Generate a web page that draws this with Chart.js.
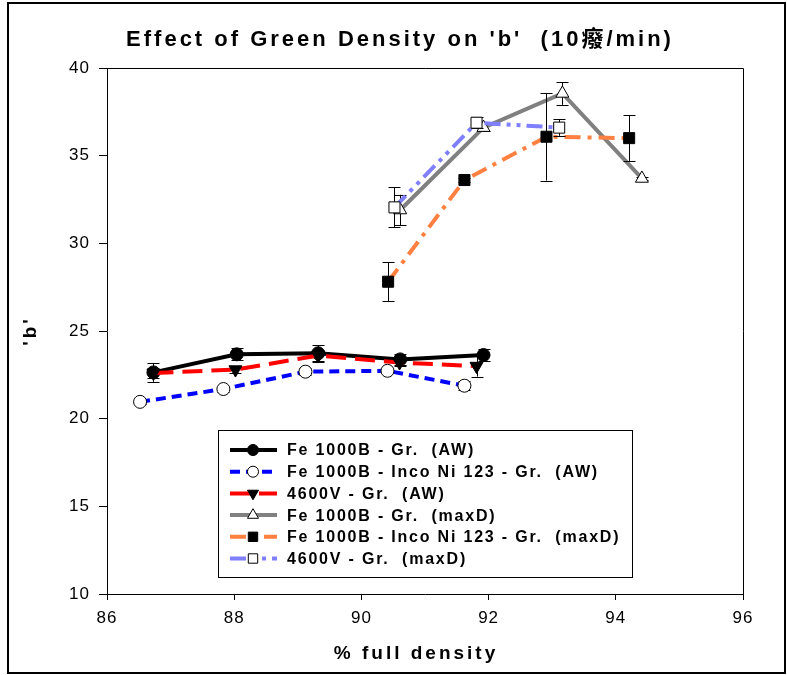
<!DOCTYPE html>
<html>
<head>
<meta charset="utf-8">
<script src="https://cdn.jsdelivr.net/npm/chart.js@4.4.1/dist/chart.umd.min.js"></script>
<style>
  body { margin: 0; background: #fff; }
  canvas { display: block; }
</style>
</head>
<body>
<canvas id="chart_cntxt" width="787" height="675"></canvas>
<script>
// % full density (x), 'b' (y), error (+/-) for each series
var xFeAW = [86.73, 88.04, 89.32, 90.61, 91.92];
var yFeAW = [22.64, 23.67, 23.73, 23.38, 23.63];
var eFeAW = [0.54, 0.35, 0.47, 0.3, 0.35];

var xIncoAW = [86.52, 87.83, 89.12, 90.41, 91.62];
var yIncoAW = [20.96, 21.69, 22.68, 22.73, 21.88];
var eIncoAW = [0.1, 0.15, 0.2, 0.15, 0.25];

var xVAW = [86.73, 88.02, 89.32, 90.6, 91.81];
var yVAW = [22.6, 22.8, 23.6, 23.2, 23.0];
var eVAW = [0.3, 0.2, 0.3, 0.2, 0.6];

var xFeMax = [90.61, 91.92, 93.16, 94.41];
var yFeMax = [31.9, 36.6, 38.55, 33.7];
var eFeMax = [0.87, 0.2, 0.65, 0.1];

var xIncoMax = [90.42, 91.62, 92.91, 94.21];
var yIncoMax = [27.81, 33.61, 36.08, 36.0];
var eIncoMax = [1.1, 0.1, 2.5, 1.3];

var xVMax = [90.52, 91.81, 93.11];
var yVMax = [32.05, 36.88, 36.6];
var eVMax = [1.14, 0.3, 0.47];

var seriesLabels = [
  "Fe 1000B - Gr.  (AW)",
  "Fe 1000B - Inco Ni 123 - Gr.  (AW)",
  "4600V - Gr.  (AW)",
  "Fe 1000B - Gr.  (maxD)",
  "Fe 1000B - Inco Ni 123 - Gr.  (maxD)",
  "4600V - Gr.  (maxD)"
];
var chartTitle = "Effect of Green Density on 'b'  (10癈/min)";
var xTitle = "% full density";
var yTitle = "'b'";

var FONT = "'Liberation Sans', Arial, 'Noto Sans CJK SC', sans-serif";

function pts(xs, ys) {
  return xs.map(function (x, i) { return { x: x, y: ys[i] }; });
}

var errs = [eFeAW, eIncoAW, eVAW, eFeMax, eIncoMax, eVMax];

var datasets = [
  { data: pts(xFeAW, yFeAW), borderColor: '#000000', borderDash: [],
    pointStyle: 'circle', pointRadius: 6.5, pointBackgroundColor: '#000', pointRotation: 0 },
  { data: pts(xIncoAW, yIncoAW), borderColor: '#0000ff', borderDash: [10, 6],
    pointStyle: 'circle', pointRadius: 6.5, pointBackgroundColor: '#fff', pointRotation: 0 },
  { data: pts(xVAW, yVAW), borderColor: '#ff0000', borderDash: [20, 9],
    pointStyle: 'triangle', pointRadius: 7.5, pointBackgroundColor: '#000', pointRotation: 180 },
  { data: pts(xFeMax, yFeMax), borderColor: '#808080', borderDash: [],
    pointStyle: 'triangle', pointRadius: 7.5, pointBackgroundColor: '#fff', pointRotation: 0 },
  { data: pts(xIncoMax, yIncoMax), borderColor: '#ff8040', borderDash: [16, 7, 4, 7],
    pointStyle: 'rect', pointRadius: 7.8, pointBackgroundColor: '#000', pointRotation: 0 },
  { data: pts(xVMax, yVMax), borderColor: '#8080ff', borderDash: [16, 6, 4, 6, 4, 6],
    pointStyle: 'rect', pointRadius: 7.8, pointBackgroundColor: '#fff', pointRotation: 0 }
].map(function (d, i) {
  d.label = seriesLabels[i];
  d.borderWidth = 4;
  d.pointBorderColor = '#000';
  d.pointBorderWidth = 1;
  d.pointHoverRadius = d.pointRadius;
  d.fill = false;
  d.tension = 0;
  d.showLine = true;
  d.order = 5 - i;
  return d;
});

// error bars, drawn just under each series
var errorBars = {
  id: 'errorBars',
  beforeDatasetDraw: function (chart, args) {
    var e = errs[args.index];
    var ds = chart.data.datasets[args.index];
    var xs = chart.scales.x, ys = chart.scales.y;
    var ctx = chart.ctx;
    ctx.save();
    ctx.strokeStyle = '#000';
    ctx.lineWidth = 1;
    ds.data.forEach(function (p, i) {
      var px = Math.round(xs.getPixelForValue(p.x)) + 0.5;
      var top = ys.getPixelForValue(p.y + e[i]);
      var bot = ys.getPixelForValue(p.y - e[i]);
      ctx.beginPath();
      ctx.moveTo(px, top); ctx.lineTo(px, bot);
      ctx.moveTo(px - 6, Math.round(top) + 0.5); ctx.lineTo(px + 6, Math.round(top) + 0.5);
      ctx.moveTo(px - 6, Math.round(bot) + 0.5); ctx.lineTo(px + 6, Math.round(bot) + 0.5);
      ctx.stroke();
    });
    ctx.restore();
  }
};

var decorations = {
  id: 'decorations',
  beforeDraw: function (chart) {
    chart.ctx.letterSpacing = '1px';
  },
  afterDraw: function (chart) {
    var ctx = chart.ctx, a = chart.chartArea;
    ctx.save();
    // plot area top / right border
    ctx.strokeStyle = '#000';
    ctx.lineWidth = 1;
    ctx.beginPath();
    ctx.moveTo(a.left, a.top + 0.5); ctx.lineTo(a.right + 0.5, a.top + 0.5);
    ctx.lineTo(a.right + 0.5, a.bottom);
    ctx.stroke();
    // outer chart border
    ctx.lineWidth = 2;
    ctx.strokeRect(8, 3, 777, 670);

    ctx.fillStyle = '#000';
    // title
    ctx.letterSpacing = '3px';
    ctx.font = 'bold 22px ' + FONT;
    ctx.textAlign = 'center';
    ctx.textBaseline = 'middle';
    ctx.fillText(chartTitle, 400, 40);
    // x title
    ctx.letterSpacing = '3px';
    ctx.font = 'bold 19px ' + FONT;
    ctx.fillText(xTitle, 416, 654);
    // y title
    ctx.save();
    ctx.translate(31, 331);
    ctx.rotate(-Math.PI / 2);
    ctx.fillText(yTitle, 0, 0);
    ctx.restore();

    // legend
    var lx = 218.5, ly = 430.5, lw = 414, lh = 147;
    ctx.fillStyle = '#fff';
    ctx.fillRect(lx, ly, lw, lh);
    ctx.strokeStyle = '#000';
    ctx.lineWidth = 1;
    ctx.strokeRect(lx, ly, lw, lh);
    ctx.letterSpacing = '1.8px';
    ctx.font = 'bold 16px ' + FONT;
    ctx.textAlign = 'left';
    chart.data.datasets.forEach(function (ds, i) {
      var ry = 450 + i * 21.7;
      ctx.save();
      ctx.strokeStyle = ds.borderColor;
      ctx.lineWidth = 4;
      ctx.setLineDash(ds.borderDash);
      ctx.beginPath();
      ctx.moveTo(230, ry); ctx.lineTo(277, ry);
      ctx.stroke();
      ctx.setLineDash([]);
      ctx.fillStyle = ds.pointBackgroundColor;
      ctx.strokeStyle = '#000';
      ctx.lineWidth = 1;
      Chart.helpers.drawPoint(ctx, {
        pointStyle: ds.pointStyle, rotation: ds.pointRotation,
        radius: ds.pointRadius * 0.85, borderWidth: 1
      }, 253, ry);
      ctx.restore();
      ctx.fillStyle = '#000';
      ctx.fillText(ds.label, 287, ry + 1);
    });
    ctx.restore();
  }
};

var current_cntxt = document.getElementById("chart_cntxt").getContext('2d');
var green_density_chart = new Chart(current_cntxt, {
  type: 'scatter',
  data: { datasets: datasets },
  options: {
    responsive: false,
    animation: false,
    layout: { padding: { top: 68, right: 44, left: 0, bottom: 0 } },
    plugins: {
      legend: { display: false },
      title: { display: false },
      tooltip: { enabled: false }
    },
    scales: {
      x: {
        type: 'linear', min: 86, max: 96,
        ticks: { stepSize: 2, color: '#000', padding: 8, font: { family: FONT, size: 17 } },
        grid: { drawOnChartArea: false, drawTicks: true, tickLength: 6, color: '#000' },
        border: { color: '#000', width: 1 },
        afterFit: function (s) { s.height = 81; }
      },
      y: {
        type: 'linear', min: 10, max: 40,
        ticks: { stepSize: 5, color: '#000', padding: 9, font: { family: FONT, size: 17 } },
        grid: { drawOnChartArea: false, drawTicks: true, tickLength: 8, color: '#000' },
        border: { color: '#000', width: 1 },
        afterFit: function (s) { s.width = 107; }
      }
    }
  },
  plugins: [errorBars, decorations]
});
</script>
</body>
</html>
